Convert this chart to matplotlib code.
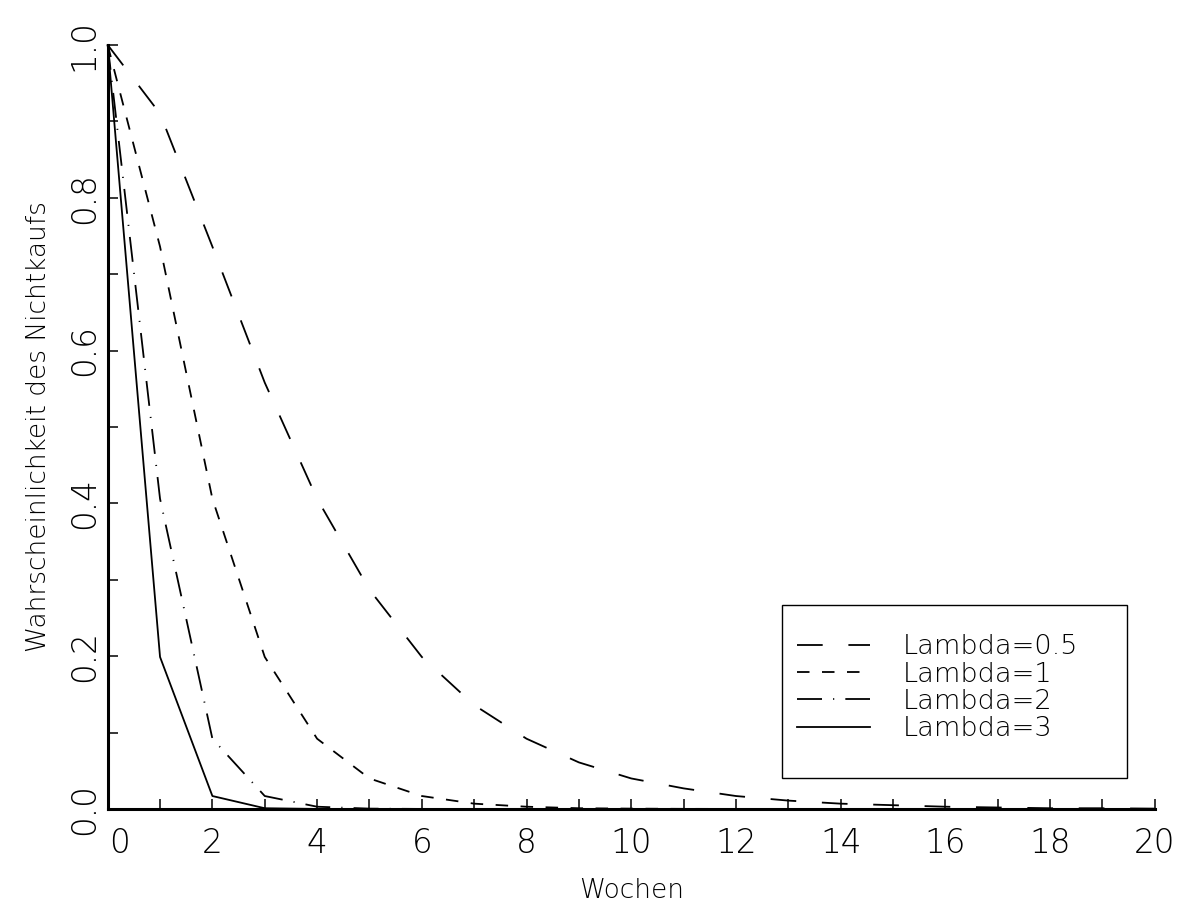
import matplotlib
matplotlib.use("Agg")
import matplotlib.pyplot as plt
import matplotlib.transforms as mtransforms
from matplotlib.patches import Rectangle
import numpy as np

plt.rcParams['font.family'] = ['DejaVu Sans']
plt.rcParams['font.weight'] = 'light'
plt.rcParams['axes.labelweight'] = 'light'
plt.rcParams['lines.scale_dashes'] = False

# Wochen 0..20
weeks = list(range(21))

lam_05 = [1.0, 0.910, 0.736, 0.558, 0.406, 0.287, 0.199, 0.136, 0.092, 0.061, 0.040,
          0.027, 0.017, 0.011, 0.007, 0.005, 0.003, 0.002, 0.001, 0.001, 0.0005]
lam_1 = [1.0, 0.736, 0.406, 0.199, 0.092, 0.040, 0.017, 0.007, 0.003, 0.001, 0.0005,
         0.0002, 0.0001, 0, 0, 0, 0, 0, 0, 0, 0]
lam_2 = [1.0, 0.406, 0.092, 0.017, 0.003, 0.0005, 0.0001, 0, 0, 0, 0,
         0, 0, 0, 0, 0, 0, 0, 0, 0, 0]
lam_3 = [1.0, 0.199, 0.017, 0.001, 0.0001, 0, 0, 0, 0, 0, 0,
         0, 0, 0, 0, 0, 0, 0, 0, 0, 0]
labels = ["Lambda=0.5", "Lambda=1", "Lambda=2", "Lambda=3"]

fig = plt.figure(figsize=(11.82, 9.09), dpi=100)
ax = fig.add_axes([0.0911, 0.110, 0.8859, 0.8406])

lw = 1.3
styles = [(0, (18.5, 18.5)), (0, (9, 9)), (0, (18, 8, 0.8, 8)), '-']
series = [lam_05, lam_1, lam_2, lam_3]
handles = []
for vals, ls, lab in zip(series, styles, labels):
    h, = ax.plot(weeks, vals, color='black', lw=lw, linestyle=ls, label=lab, clip_on=False)
    handles.append(h)

ax.set_xlim(0, 20)
ax.set_ylim(0, 1)
ax.spines['top'].set_visible(False)
ax.spines['right'].set_visible(False)
ax.spines['left'].set_linewidth(2.2)
ax.spines['bottom'].set_linewidth(2.2)

ax.set_xticks(np.arange(0, 21, 2))
ax.set_xticks(np.arange(0, 21, 1), minor=True)
ax.set_yticks(np.arange(0, 1.01, 0.2))
ax.set_yticks(np.arange(0, 1.01, 0.1), minor=True)
ax.set_yticklabels(["%.1f" % v for v in np.arange(0, 1.01, 0.2)], rotation=90, va='center')
ax.tick_params(which='both', direction='in', length=7, width=1.1, labelsize=23.5)
ax.tick_params(axis='x', pad=13)
ax.tick_params(axis='y', pad=5)

# the 0 label sits a bit to the right of the axis
lab0 = ax.xaxis.get_major_ticks()[0].label1
lab0.set_transform(lab0.get_transform() + mtransforms.ScaledTranslation(0.12, 0, fig.dpi_scale_trans))

ax.set_xlabel("Wochen", fontsize=19, labelpad=13)
ax.set_ylabel("Wahrscheinlichkeit des Nichtkaufs", fontsize=19, labelpad=12)

leg = fig.legend(handles=handles, loc='upper left', bbox_to_anchor=(0.674, 0.302),
                 frameon=False, fontsize=19.5, handlelength=2.7, handletextpad=1.2,
                 labelspacing=0.08, borderpad=0, borderaxespad=0)
fig.patches.append(Rectangle((0.6616, 0.1441), 0.2919, 0.1903, transform=fig.transFigure,
                             fill=False, edgecolor='black', lw=1.0))

fig.savefig("out.png", dpi=100)
